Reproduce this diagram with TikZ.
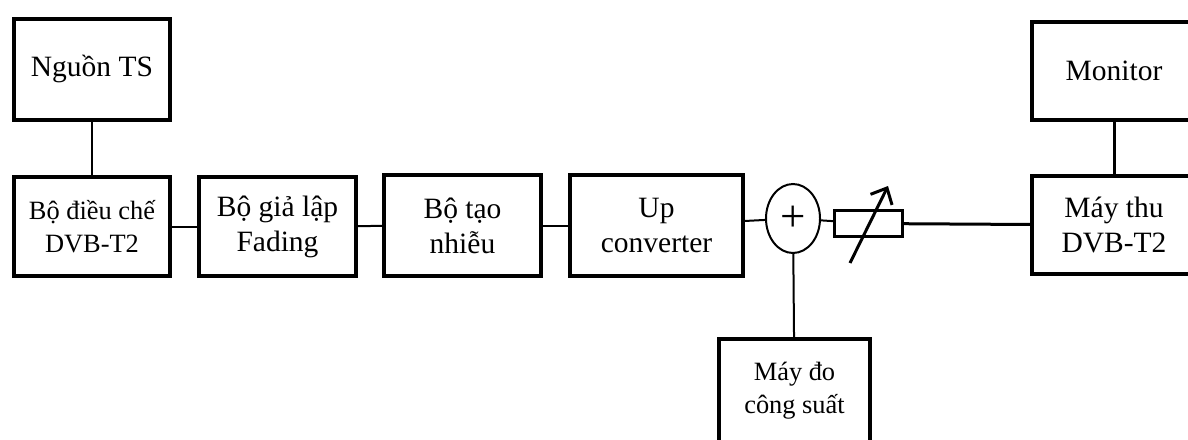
\documentclass[tikz,border=0pt]{standalone}
\usepackage{fontspec}
\setmainfont{Liberation Serif}
\usetikzlibrary{shapes.geometric,arrows.meta}
\begin{document}
\begin{tikzpicture}[x=1pt,y=-1pt]
\tikzstyle{every node}+=[inner sep=0pt]
\tikzstyle{block}=[draw=black,line width=4pt,minimum height=101pt,align=center,font=\fontsize{29.5}{35}\selectfont]
\tikzstyle{small}=[font=\fontsize{26.4}{33}\selectfont]
\tikzstyle{wire}=[black,line width=2pt]
\useasboundingbox (0,0) rectangle (1188,439);
%left column
\node [block,minimum width=156pt] (src) at (92,69.5) {Nguồn TS};
\node [block,small,minimum width=156pt,minimum height=99pt] (mod) at (92,226.5) {Bộ điều chế\\DVB-T2};
%chain
\node [block,minimum width=157pt,minimum height=99pt] (fad) at (277.5,226.5) {Bộ giả lập\\Fading};
\node [block,minimum width=157pt] (noi) at (462.5,225.5) {Bộ tạo\\nhiễu};
\node [block,minimum width=173pt] (upc) at (656.5,225.5) {Up\\converter};
\node [draw=black,line width=2pt,ellipse,minimum width=54pt,minimum height=69pt,font=\fontsize{45}{46}\selectfont] (sum) at (793,218.5) {+};
\node [draw=black,line width=3pt,minimum width=68pt,minimum height=26pt] (att) at (868.5,223.5) {};
%right column
\node [block,minimum width=164pt,minimum height=98pt] (mon) at (1114,71) {Monitor};
\node [block,minimum width=164pt,minimum height=98pt] (rx) at (1114,225) {Máy thu\\DVB-T2};
%meter
\node [block,small,minimum width=151pt,minimum height=104pt] (pwr) at (794.5,391) {Máy đo\\công suất};
\coordinate (arrtail) at ([shift={(-18.5,39.5)}]att.center);
\coordinate (arrtip) at ([shift={(19.5,-37.5)}]att.center);
\draw [wire] (src) -- (mod);
\draw [wire] (mod) -- (fad);
\draw [wire] (fad) -- (noi);
\draw [wire] (noi) -- (upc);
\draw [wire] (upc) -- (sum);
\draw [wire] (sum) -- (att);
\draw [wire,line width=3pt] (att) -- (rx);
\draw [wire,line width=3pt] (mon) -- (rx);
\draw [wire] (sum) -- (pwr);
\draw [line width=3pt,-{Straight Barb[length=13pt,width=24pt]}] (arrtail) -- (arrtip);
\end{tikzpicture}
\end{document}
